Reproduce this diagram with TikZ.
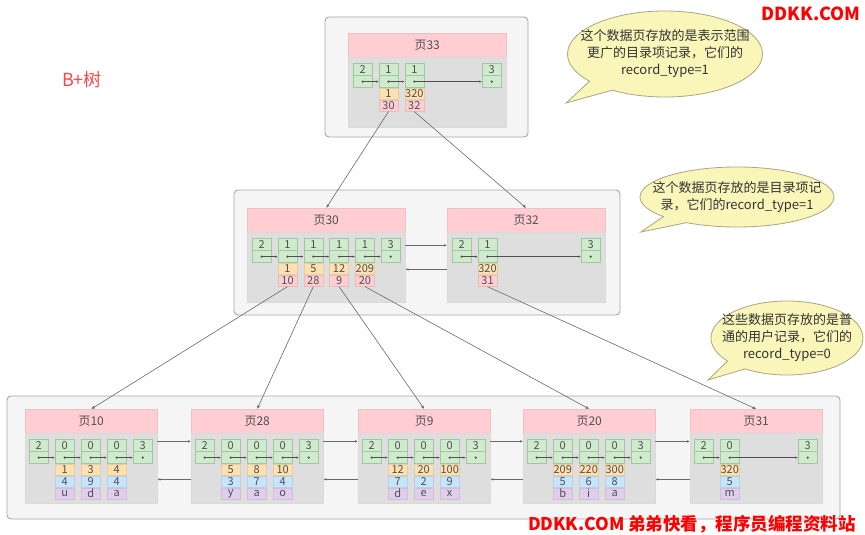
\documentclass[tikz,border=0pt]{standalone}
\usepackage{fontspec}
\setmainfont{Noto Sans CJK SC}
\usetikzlibrary{arrows.meta,positioning,calc,shapes.callouts}
\definecolor{HeadPink}{RGB}{255,205,210}
\definecolor{BodyGray}{RGB}{222,222,222}
\definecolor{LevelGray}{RGB}{245,245,245}
\definecolor{RecGreen}{RGB}{208,234,206}
\definecolor{RecEdge}{RGB}{160,200,158}
\definecolor{KeyOrange}{RGB}{255,224,176}
\definecolor{ColBlue}{RGB}{198,228,252}
\definecolor{ColPurple}{RGB}{226,206,236}
\definecolor{NoteYellow}{RGB}{250,245,185}
\definecolor{NoteEdge}{RGB}{170,165,130}
\definecolor{DarkText}{RGB}{80,80,80}
\definecolor{LinkGray}{RGB}{105,105,105}
\definecolor{BrandRed}{RGB}{255,0,0}
\definecolor{TitleRed}{RGB}{255,70,70}
\tikzset{
  levelbox/.style={draw=gray!70, fill=LevelGray, rounded corners=4pt, line width=0.9pt},
  pagehead/.style={draw=HeadPink!85!gray, fill=HeadPink, inner sep=0pt, minimum height=24pt,
    anchor=north west, text=DarkText, font=\fontsize{12}{13}\selectfont},
  pagebody/.style={draw=gray!30, fill=BodyGray, inner sep=0pt, minimum height=70pt},
  cellbase/.style={inner sep=0pt, minimum width=19pt, text=DarkText, font=\fontsize{11}{11}\selectfont},
  rec/.style={cellbase, draw=RecEdge, fill=RecGreen, minimum height=12pt, anchor=north west},
  recdot/.style={cellbase, draw=RecEdge, fill=RecGreen, minimum height=12pt, below=0pt of #1,
    path picture={\fill[DarkText] (path picture bounding box.center) circle (1.2pt);}},
  keycell/.style={cellbase, draw=KeyOrange!80!gray, fill=KeyOrange, minimum height=11.5pt, below=0pt of #1},
  childcell/.style={cellbase, draw=HeadPink!80!gray, fill=HeadPink, minimum height=11.5pt, below=0pt of #1},
  colcell/.style={cellbase, draw=ColBlue!80!gray, fill=ColBlue, minimum height=11.5pt, below=0pt of #1},
  valcell/.style={cellbase, draw=ColPurple!80!gray, fill=ColPurple, minimum height=11.5pt, below=0pt of #1},
  nextrec/.style={draw=DarkText, line width=0.5pt, -{Latex[length=2.6pt,width=2.2pt]}},
  pagelink/.style={draw=LinkGray, line width=0.6pt, -{Latex[length=3pt,width=2.6pt]}},
  childlink/.style={draw=LinkGray, line width=0.6pt, -{Latex[length=3.5pt,width=3pt]}},
  note/.style={ellipse callout, draw=NoteEdge, fill=NoteYellow, line width=0.8pt, inner sep=-25pt,
    callout pointer arc=18, align=center, text=black!80, font=\fontsize{13}{17}\selectfont}
}
\begin{document}
\begin{tikzpicture}[x=1pt, y=-1pt]
  \useasboundingbox (0,0) rectangle (865,535);
  % levels
  \draw[levelbox] (325,17) rectangle (528,137);
  \draw[levelbox] (234,190) rectangle (620,315);
  \draw[levelbox] (7,396) rectangle (840,519);
  % pages
  \foreach \p/\x/\y/\w in {33/348/33/158, 30/247/208/158, 32/447/208/158, 10/25/409/132,
      28/191/409/132, 9/358/409/132, 20/523/409/132, 31/690/409/132}{
    \node[pagehead, minimum width=\w pt] (h\p) at (\x,\y) {页\p};
    \node[pagebody, minimum width=\w pt, below=0pt of h\p] (b\p) {};
  }
  % directory records
  \foreach \p/\x/\y/\recs in {33/348/33/{0/2,1/1,2/1,5/3}, 30/247/208/{0/2,1/1,2/1,3/1,4/1,5/3},
      32/447/208/{0/2,1/1,5/3}}{
    \foreach \i/\n in \recs{
      \node[rec] (p\p r\i) at (\x+5+25.8*\i,\y+30) {\n};
      \node[recdot=p\p r\i] (p\p r\i d) {};
    }
  }
  \foreach \p/\i/\kv/\pg in {33/1/1/30, 33/2/320/32, 30/1/1/10, 30/2/5/28, 30/3/12/9,
      30/4/209/20, 32/1/320/31}{
    \node[keycell=p\p r\i d] (p\p k\i) {\kv};
    \node[childcell=p\p k\i] (p\p c\i) {\pg};
  }
  % user records
  \foreach \p/\x/\recs in {10/25/{0/2,1/0,2/0,3/0,4/3}, 28/191/{0/2,1/0,2/0,3/0,4/3},
      9/358/{0/2,1/0,2/0,3/0,4/3}, 20/523/{0/2,1/0,2/0,3/0,4/3}, 31/690/{0/2,1/0,4/3}}{
    \foreach \i/\n in \recs{
      \node[rec] (p\p r\i) at (\x+4+26*\i,439) {\n};
      \node[recdot=p\p r\i] (p\p r\i d) {};
    }
  }
  \foreach \p/\i/\kv/\col/\val in {10/1/1/4/u, 10/2/3/9/d, 10/3/4/4/a, 28/1/5/3/y, 28/2/8/7/a,
      28/3/10/4/o, 9/1/12/7/d, 9/2/20/2/e, 9/3/100/9/x, 20/1/209/5/b, 20/2/220/6/i,
      20/3/300/8/a, 31/1/320/5/m}{
    \node[keycell=p\p r\i d] (p\p k\i) {\kv};
    \node[colcell=p\p k\i] (p\p v\i) {\col};
    \node[valcell=p\p v\i] (p\p w\i) {\val};
  }
  % next_record
  \foreach \a/\b in {33r0/33r1, 33r1/33r2, 33r2/33r5, 30r0/30r1, 30r1/30r2, 30r2/30r3,
      30r3/30r4, 30r4/30r5, 32r0/32r1, 32r1/32r5, 31r0/31r1, 31r1/31r4}
    \draw[nextrec] (p\a d.center) -- (p\b d.west);
  \foreach \p in {10,28,9,20}
    \foreach \a/\b in {0/1,1/2,2/3,3/4}
      \draw[nextrec] (p\p r\a d.center) -- (p\p r\b d.west);
  % sibling pages
  \draw[pagelink] ([yshift=-13pt]b30.north east) -- ([yshift=-13pt]b32.north west);
  \draw[pagelink] ([yshift=-37pt]b32.north west) -- ([yshift=-37pt]b30.north east);
  \foreach \l/\r in {10/28, 28/9, 9/20, 20/31}{
    \draw[pagelink] ([yshift=-8pt]b\l.north east) -- ([yshift=-8pt]b\r.north west);
    \draw[pagelink] ([yshift=-46pt]b\r.north west) -- ([yshift=-46pt]b\l.north east);
  }
  % children
  \draw[childlink] (p33c1.south) -- (h30.north);
  \draw[childlink] (p33c2.south) -- (h32.north);
  \draw[childlink] (p30c1.south) -- (h10.north);
  \draw[childlink] (p30c2.south) -- (h28.north);
  \draw[childlink] (p30c3.south) -- (h9.north);
  \draw[childlink] (p30c4.south) -- (h20.north);
  \draw[childlink] (p32c1.south) -- (h31.north);
  % notes
  \node[note, minimum width=195pt, minimum height=86pt, callout absolute pointer={(566,103)}] (note1)
    at (665,54) {这个数据页存放的是表示范围\\更广的目录项记录，它们的\\record\_type=1};
  \node[note, minimum width=194pt, minimum height=60pt, callout absolute pointer={(641,232)}] (note2)
    at (737,197) {这个数据页存放的是目录项记\\录，它们的record\_type=1};
  \node[note, minimum width=152pt, minimum height=74pt, callout absolute pointer={(708,380)}] (note3)
    at (787,338) {这些数据页存放的是普\\通的用户记录，它们的\\record\_type=0};
  % labels
  \node[text=TitleRed, font=\fontsize{18}{20}\selectfont] (title) at (82,80) {B+树};
  \node[text=BrandRed, font=\fontsize{18}{20}\selectfont\bfseries] (brand) at (811,14) {DDKK.COM};
  \node[text=BrandRed, font=\fontsize{17.5}{20}\selectfont\bfseries] (footer) at (692,524)
    {DDKK.COM 弟弟快看，程序员编程资料站};
\end{tikzpicture}
\end{document}
